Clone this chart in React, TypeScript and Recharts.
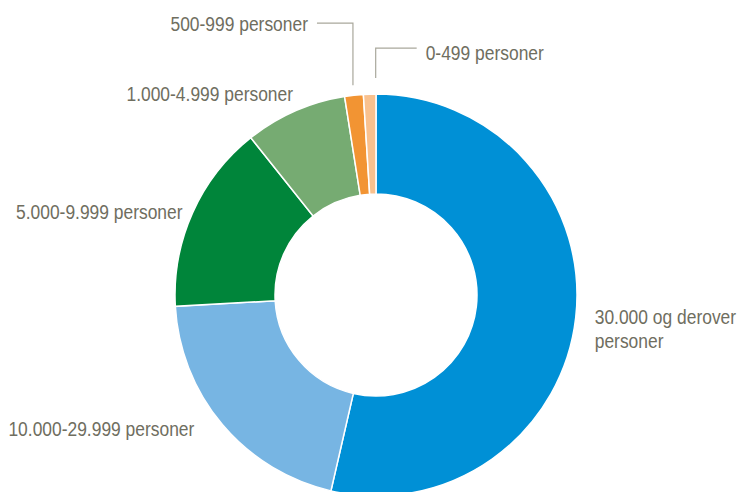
import React from 'react';
import { PieChart, Pie, Cell } from 'recharts';

// Andel kommuner etter innbyggertall (prosent, lest av figuren)
const categories = [
    '30.000 og derover personer',
    '10.000-29.999 personer',
    '5.000-9.999 personer',
    '1.000-4.999 personer',
    '500-999 personer',
    '0-499 personer',
];
const shares = [53.6, 20.5, 15.2, 8.2, 1.5, 1.0];
const colors = ['#0090D6', '#77B5E3', '#00853A', '#76AB72', '#F29433', '#F9C18E'];

// label text split on lines
const labelLines = [
    ['30.000 og derover', 'personer'],
    ['10.000-29.999 personer'],
    ['5.000-9.999 personer'],
    ['1.000-4.999 personer'],
    ['500-999 personer'],
    ['0-499 personer'],
];

const data = categories.map((name, i) => ({ name, value: shares[i] }));

const TEXT = '#6F6E5F';
const LEADER = '#A9A89C';
// no narrow font installed, so squeeze Liberation Sans horizontally
const FONT = '"Liberation Sans", Arial, sans-serif';
const NARROW = 0.83;

// label placement relative to the outer point of each slice's mid angle
const labelPos: { anchor: 'start' | 'end'; dx: number; dy: number; leader?: [number, number][] }[] = [
    { anchor: 'start', dx: 19, dy: 6 },
    { anchor: 'end', dx: -28, dy: 11 },
    { anchor: 'end', dx: -10, dy: 6 },
    { anchor: 'end', dx: -2, dy: -10 },
    { anchor: 'end', dx: -46, dy: -64, leader: [[-1, -10], [-1, -72], [-37, -72]] },
    { anchor: 'start', dx: 56, dy: -34, leader: [[6, -16], [6, -46], [47, -46]] },
];

const RAD = Math.PI / 180;

const renderLabel = (props: any) => {
    const { cx, cy, midAngle, outerRadius, index } = props;
    const x0 = cx + outerRadius * Math.cos(-midAngle * RAD);
    const y0 = cy + outerRadius * Math.sin(-midAngle * RAD);
    const pos = labelPos[index];
    const lines = labelLines[index];
    return (
        <g key={`lbl-${index}`}>
            {pos.leader && (
                <polyline
                    points={pos.leader.map(([px, py]) => `${x0 + px},${y0 + py}`).join(' ')}
                    fill="none"
                    stroke={LEADER}
                    strokeWidth={1.2}
                />
            )}
            <text
                transform={`translate(${x0 + pos.dx},${y0 + pos.dy}) scale(${NARROW},1)`}
                textAnchor={pos.anchor}
                fill={TEXT}
                fontSize={21}
                fontFamily={FONT}
            >
                {lines.map((l, i) => (
                    <tspan key={i} x={0} y={i * 24}>
                        {l}
                    </tspan>
                ))}
            </text>
        </g>
    );
};

export default function App() {
    return (
        <div style={{ position: 'absolute', left: 0, top: 0, width: 738, height: 492, background: '#fff' }}>
            <PieChart width={738} height={492} margin={{ top: 0, right: 0, bottom: 0, left: 0 }}>
                <Pie
                    data={data}
                    dataKey="value"
                    nameKey="name"
                    cx={376}
                    cy={295}
                    innerRadius={101}
                    outerRadius={201}
                    startAngle={90}
                    endAngle={-270}
                    stroke="#fff"
                    strokeWidth={1.5}
                    label={renderLabel}
                    labelLine={false}
                    isAnimationActive={false}
                >
                    {data.map((d, i) => (
                        <Cell key={d.name} fill={colors[i]} />
                    ))}
                </Pie>
            </PieChart>
        </div>
    );
}
